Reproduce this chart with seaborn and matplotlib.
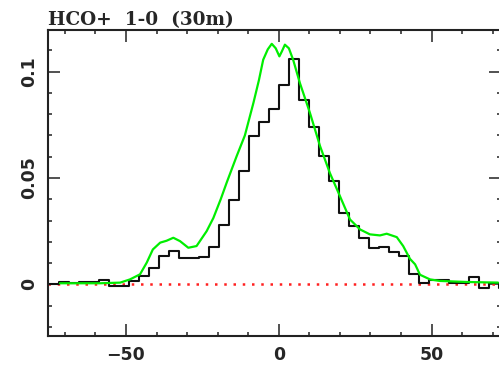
import numpy as np
import pandas as pd
import matplotlib
matplotlib.use("Agg")
import matplotlib.pyplot as plt
import seaborn as sns
from matplotlib.ticker import FixedLocator, MultipleLocator

# ---- data ----
# black histogram: channel centre velocities (km/s) and intensities
hist_v = [-76.7, -73.4, -70.2, -66.9, -63.6, -60.4, -57.1, -53.8, -50.5, -47.3,
          -44.0, -40.7, -37.5, -34.2, -30.9, -27.6, -24.4, -21.1, -17.8, -14.6,
          -11.3, -8.0, -4.7, -1.5, 1.8, 5.1, 8.3, 11.6, 14.9, 18.2,
          21.4, 24.7, 28.0, 31.2, 34.5, 37.8, 41.0, 44.3, 47.6, 50.9,
          54.1, 57.4, 60.7, 63.9, 67.2, 70.5, 73.8]
hist_t = [0.0, 0.0, 0.0013, 0.0008, 0.0010, 0.0010, 0.0020, -0.0008, -0.0008, 0.0015,
          0.0040, 0.0078, 0.0133, 0.0156, 0.0124, 0.0126, 0.0128, 0.0175, 0.0277, 0.0398,
          0.0532, 0.0696, 0.0762, 0.0826, 0.0939, 0.1060, 0.0869, 0.0740, 0.0603, 0.0485,
          0.0337, 0.0274, 0.0219, 0.0172, 0.0177, 0.0153, 0.0133, 0.0047, 0.0008, 0.0020,
          0.0020, 0.0008, 0.0008, 0.0034, -0.0016, 0.0008, -0.0016]

# green smooth profile
model_v = [-71.6, -58.5, -51.9, -48.7, -45.4, -43.2, -41.2, -38.8, -36.7, -34.5,
           -32.3, -29.6, -26.9, -23.6, -21.4, -19.0, -17.0, -13.8, -11.1, -8.3,
           -6.5, -5.1, -3.6, -2.3, -1.0, 0.2, 1.0, 2.0, 3.3, 4.7, 6.9, 10.2, 13.5, 16.7, 20.0,
           23.3, 26.6, 29.8, 33.1, 35.3, 38.6, 40.7, 42.9, 44.6, 46.2,
           49.5, 52.7, 61.5, 71.7]
model_t = [0.0005, 0.0005, 0.0008, 0.0023, 0.0047, 0.0102, 0.0164, 0.0196, 0.0205, 0.0219,
           0.0203, 0.0172, 0.0180, 0.0250, 0.0312, 0.0400, 0.0480, 0.0602, 0.0700, 0.0853,
           0.0960, 0.1056, 0.1105, 0.1131, 0.1110, 0.1072, 0.1095, 0.1127, 0.1110, 0.1056,
           0.0947, 0.0806, 0.0650, 0.0524, 0.0415,
           0.0305, 0.0258, 0.0235, 0.0230, 0.0238, 0.0222, 0.0180, 0.0120, 0.0094, 0.0045,
           0.0023, 0.0016, 0.0011, 0.0008]

x_major = [-50, 0, 50]
x_labels = ["\u221250", "0", "50"]
y_major = [0, 0.05, 0.1]
y_labels = ["0", "0.05", "0.1"]
title = "HCO+  1-0  (30m)"

# ---- plot ----
sns.set_style("ticks")
plt.rcParams["font.family"] = ["DejaVu Sans"]

W, H = 499, 372
fig = plt.figure(figsize=(W / 100, H / 100), dpi=100)
ax = fig.add_axes([48 / W, (H - 336) / H, (501 - 48) / W, (336 - 30) / H])

ax.axhline(0, color="#ff2020", lw=1.8, ls=(0, (1, 2.7)), zorder=1)

hist_df = pd.DataFrame({"v": hist_v, "t": hist_t})
model_df = pd.DataFrame({"v": model_v, "t": model_t})
sns.lineplot(data=hist_df, x="v", y="t", ax=ax, color="#111111", lw=1.5,
             drawstyle="steps-mid", estimator=None, sort=True, zorder=2)
sns.lineplot(data=model_df, x="v", y="t", ax=ax, color="#00ee00", lw=1.6,
             estimator=None, sort=True, zorder=3)

ax.set_xlim(-75.5, 72.7)
ax.set_ylim(-0.0243, 0.1196)
ax.set_xlabel("")
ax.set_ylabel("")

ax.xaxis.set_major_locator(FixedLocator(x_major))
ax.xaxis.set_minor_locator(MultipleLocator(10))
ax.yaxis.set_major_locator(FixedLocator(y_major))
ax.yaxis.set_minor_locator(MultipleLocator(0.01))
ax.set_xticklabels(x_labels)
ax.set_yticklabels(y_labels, rotation=90, va="center")

ax.tick_params(which="both", direction="in", top=True, right=True, width=1.1,
               color="#222222")
ax.tick_params(which="major", length=8.5, labelsize=12.5, pad=7)
ax.tick_params(which="minor", length=3)
for lab in ax.get_xticklabels() + ax.get_yticklabels():
    lab.set_fontweight("bold")
for sp in ax.spines.values():
    sp.set_linewidth(1.5)
    sp.set_color("#222222")

fig.text(48 / W, 1 - 25 / H, title, family="DejaVu Serif", weight="bold",
         fontsize=13.3, ha="left", va="baseline")

fig.savefig("out.png", dpi=100)
